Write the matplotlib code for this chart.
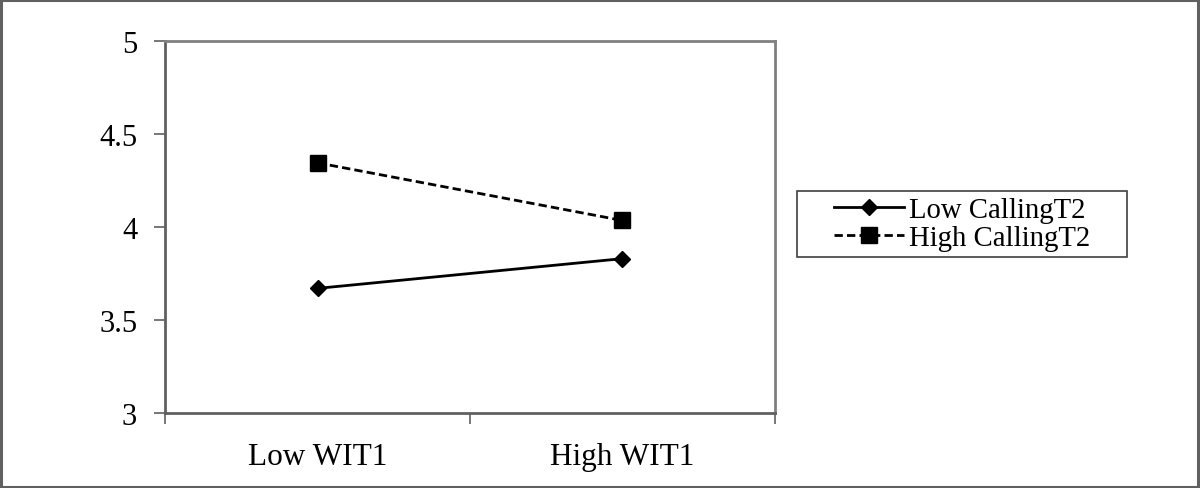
import matplotlib
matplotlib.use('Agg')
import matplotlib.pyplot as plt
from matplotlib.patches import Rectangle

# data
categories = ['Low WIT1', 'High WIT1']
low_calling = [3.67, 3.83]
high_calling = [4.345, 4.035]
series_names = ['Low CallingT2', 'High CallingT2']
yticks = [3, 3.5, 4, 4.5, 5]
ytick_labels = ['3', '3.5', '4', '4.5', '5']

plt.rcParams['font.family'] = ['Liberation Serif', 'DejaVu Serif']

fig = plt.figure(figsize=(12, 4.89), dpi=100)
ax = fig.add_axes([165 / 1200, 1 - 414 / 489, 610 / 1200, 372 / 489])

x = [0.5, 1.5]
ax.plot(x, low_calling, color='black', lw=2, marker='D', markersize=8,
        label=series_names[0])
ax.plot(x, high_calling, color='black', lw=2, ls=(0, (3, 1.5)), marker='s',
        markersize=11, label=series_names[1])

ax.set_xlim(0, 2)
ax.set_ylim(3, 5)
ax.set_yticks(yticks)
ax.set_yticklabels(ytick_labels)
ax.set_xticks([0, 1, 2])
ax.set_xticklabels([])
ax.set_xticks(x, minor=True)
ax.set_xticklabels(categories, minor=True)
ax.tick_params(axis='x', which='minor', length=0, pad=21, labelsize=22.5)
ax.tick_params(axis='x', which='major', direction='out', length=8,
               width=1.2, color='#606060')
ax.tick_params(axis='y', direction='out', length=8, width=1.2,
               color='#606060', labelsize=22, pad=12)

for s in ax.spines.values():
    s.set_color('#808080')
    s.set_linewidth(2)
ax.spines['left'].set_color('#606060')
ax.spines['bottom'].set_color('#606060')

# legend box drawn separately, entries centred inside it
bx, by, bw, bh = 797 / 1200, 1 - 258 / 489, 330 / 1200, 66 / 489
fig.patches.append(Rectangle((bx, by), bw, bh, transform=fig.transFigure,
                             fill=False, edgecolor='#404040', lw=1.2))
leg = ax.legend(loc='center', bbox_to_anchor=(bx + bw / 2, by + bh / 2),
                bbox_transform=fig.transFigure, fontsize=20.7, frameon=False,
                borderpad=0, handlelength=2.45, handletextpad=0.17,
                labelspacing=0.05, borderaxespad=0)

# outer border of the picture
fig.patches.append(Rectangle((0.001, 0.002), 0.997, 0.995, transform=fig.transFigure,
                             fill=False, edgecolor='#606060', lw=2.2))

fig.savefig('out.png', dpi=100)
